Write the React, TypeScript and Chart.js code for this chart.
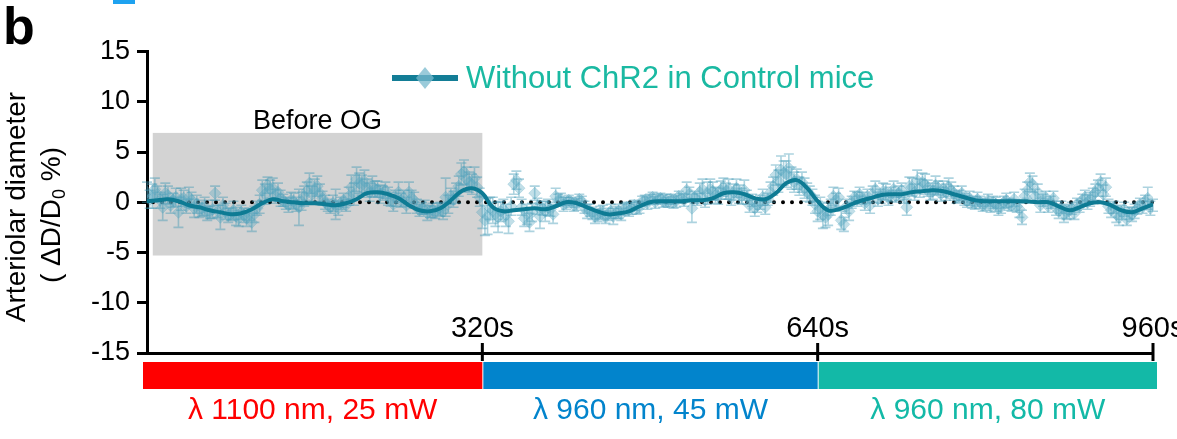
import { useEffect, useRef } from "react";
import { Chart, registerables } from "chart.js";

Chart.register(...registerables);

// ---- data ----
// samples on the 5 s grid (t = 0, 5, 10, ... 960 s)
const SAMPLE_STEP_S = 5;
const pointValues = [
  1.0, 0.6, 0.8, -0.5, 0.7, 0.2, -1.0, 0.4, 0.5, -0.6,
  -0.8, -0.4, -1.0, 0.9, -1.5, -0.9, -1.2, -1.4, -1.0, -1.6,
  -2.0, -0.6, 1.2, 1.7, 1.4, 1.0, 0.2, -0.3, 0.1, -0.5,
  0.6, 1.9, 1.2, 0.9, 0.0, -0.5, -0.2, -0.1, -0.3, 1.5,
  2.3, 1.7, 1.4, 1.6, 1.3, 0.9, 0.6, -0.2, 1.0, 0.4,
  1.0, 0.2, -0.8, -0.5, -0.9, -1.0, -0.7, 0.5, 0.6, 0.9,
  2.8, 2.3, 1.8, 1.5, -1.0, -1.4, -0.8, -1.5, -0.7, -1.9,
  1.8, 1.4, -1.6, -2.0, 0.9, -1.4, -0.9, -0.7, 0.6, 0.3,
  -0.1, 0.0, -0.2, 0.1, -0.9, -1.1, -1.3, -1.0, -1.2, -1.4,
  -0.9, -0.7, -0.8, -0.3, -0.5, 0.2, 0.3, 0.0, 0.4, 0.2,
  0.3, 0.1, 0.4, 1.2, -0.6, 0.3, 1.3, 0.9, 1.1, 0.6,
  1.5, 1.3, 1.0, 0.8, 1.2, -0.3, -0.6, 0.0, -0.5, 1.0,
  2.7, 3.2, 2.8, 2.4, 2.3, 2.0, 1.0, 0.5, -0.9, -1.3,
  -1.2, 0.6, 0.5, -2.2, -0.9, 0.5, 0.8, -0.1, -0.3, 1.3,
  0.6, 1.0, 0.8, 0.6, 1.2, -0.5, 1.5, 2.2, 2.0, 1.4,
  1.1, 1.4, 1.3, 1.5, 0.9, 0.6, 0.3, 0.4, -0.1, 0.0,
  -0.2, -0.4, -0.2, -0.5, 0.2, -0.3, -0.4, -1.5, 1.2, 1.8,
  1.0, 0.2, -0.4, 0.4, -0.9, -1.2, -0.9, -1.1, -0.4, 0.5,
  0.3, 1.0, 2.0, 1.5, -0.8, -1.2, -1.0, -1.7, -1.2, -0.6,
  -0.5, 0.4, -0.3,
];
const pointErrors = [
  1.0, 1.2, 0.8, 1.3, 0.9, 0.7, 1.5, 0.8, 1.0, 0.9,
  0.7, 0.9, 0.6, 0.7, 1.2, 0.8, 0.6, 0.9, 0.7, 0.8,
  0.9, 0.7, 1.0, 0.8, 1.0, 0.9, 0.6, 0.7, 0.8, 1.8,
  1.0, 1.0, 1.1, 0.9, 0.7, 0.6, 1.5, 0.6, 0.6, 1.2,
  1.2, 1.0, 0.9, 1.0, 0.8, 0.7, 0.9, 0.7, 1.0, 0.8,
  1.0, 0.8, 0.6, 0.7, 0.6, 0.6, 0.7, 1.9, 0.8, 1.0,
  1.1, 1.2, 1.0, 1.0, 1.6, 1.8, 1.3, 1.5, 1.0, 1.2,
  1.0, 0.9, 0.8, 0.9, 0.7, 1.2, 1.0, 0.7, 0.8, 0.6,
  0.6, 0.5, 0.6, 0.5, 0.7, 0.6, 0.6, 0.7, 0.6, 0.8,
  0.7, 0.6, 0.6, 0.5, 0.6, 0.5, 0.5, 0.6, 0.5, 0.6,
  0.5, 0.6, 0.5, 0.8, 1.4, 0.6, 1.0, 1.1, 0.9, 0.8,
  0.9, 1.0, 0.8, 0.9, 1.0, 0.7, 0.8, 0.7, 0.7, 1.0,
  1.0, 1.4, 1.3, 1.1, 1.0, 1.0, 0.9, 0.8, 1.0, 1.3,
  1.1, 0.9, 0.9, 0.7, 0.9, 0.6, 0.7, 0.7, 0.8, 0.8,
  0.7, 0.8, 0.7, 0.6, 0.7, 0.8, 0.9, 1.0, 0.9, 0.8,
  0.8, 0.7, 0.8, 0.9, 0.7, 0.6, 0.6, 0.7, 0.6, 0.6,
  0.6, 0.6, 0.7, 0.6, 0.7, 0.6, 0.6, 0.7, 0.8, 0.8,
  0.8, 0.6, 0.6, 0.7, 0.7, 0.8, 0.7, 0.6, 0.6, 0.7,
  0.7, 0.8, 0.8, 0.9, 0.7, 0.8, 0.7, 0.6, 0.7, 0.6,
  0.6, 1.1, 0.6,
];
// samples half-way between (t = 2.5, 7.5, ... 957.5 s)
const MID_OFFSET_S = 2.5;
const pointValuesMid = [
  0.3, 1.3, 0.2, 0.9, -0.3, 0.5, 0.3, -0.4, 0.2, -0.2,
  -0.6, -1.1, -0.7, -0.9, -0.3, -1.3, -0.8, -1.6, -1.3, -1.2,
  -1.2, -0.2, 0.8, 1.3, 0.6, 0.4, -0.1, 0.2, -0.2, 0.1,
  1.1, 0.8, 1.6, 0.4, -0.3, -0.1, -0.6, 0.2, 0.6, 0.8,
  1.9, 2.1, 1.0, 1.3, 0.8, 1.2, 0.3, 0.4, 0.2, -0.3,
  0.4, -0.4, -0.6, -1.1, -0.8, -0.7, -0.9, -0.2, 0.3, 1.6,
  3.0, 2.0, 2.4, 0.5, -1.8, -0.6, -1.2, -0.9, -1.3, -0.4,
  2.2, -0.5, -1.2, -1.0, -0.4, -0.6, -0.5, -1.2, 0.2, -0.2,
  0.2, -0.3, 0.3, -0.5, -0.8, -1.4, -1.0, -1.5, -0.9, -1.0,
  -1.2, -0.5, -0.6, -0.6, 0.1, -0.1, 0.5, 0.3, 0.1, 0.0,
  0.0, 0.6, 0.2, 0.8, 0.5, 1.0, 0.2, 1.3, 0.7, 1.2,
  1.1, 0.4, 1.4, 0.6, 0.5, 0.2, -0.3, 0.5, 0.3, 1.6,
  2.1, 2.9, 3.4, 2.0, 1.6, 1.4, 0.8, -0.2, -0.6, -1.5,
  -0.5, 0.2, -1.8, -0.4, 0.0, 0.3, 0.4, 0.6, 0.8, 0.3,
  1.1, 0.4, 1.3, 0.9, 0.5, 1.6, 1.0, 1.4, 1.8, 0.9,
  1.7, 0.8, 1.0, 1.2, 0.5, 0.9, 0.1, 0.0, 0.3, -0.3,
  0.2, 0.0, -0.6, 0.0, -0.2, 0.3, -0.7, 0.6, 2.0, 0.6,
  -0.3, 0.5, 0.0, -0.6, -0.5, -1.0, -0.6, -0.2, 0.2, 0.0,
  0.7, 1.4, 0.8, -0.4, -0.5, -1.5, -0.7, -1.1, -0.9, -0.2,
  0.1, -0.6,
];
const pointErrorsMid = [
  0.9, 1.1, 0.8, 1.0, 0.8, 0.9, 1.1, 0.7, 0.8, 0.9,
  0.8, 0.7, 0.9, 0.6, 0.8, 0.7, 0.9, 0.8, 0.7, 0.6,
  0.8, 0.9, 1.0, 0.9, 0.7, 0.8, 0.6, 0.8, 0.7, 0.9,
  0.9, 0.8, 1.0, 0.7, 0.6, 0.8, 0.7, 0.7, 0.9, 1.1,
  1.0, 1.1, 0.9, 0.8, 0.9, 0.8, 0.7, 0.8, 0.7, 0.8,
  0.8, 0.7, 0.6, 0.7, 0.7, 0.6, 0.8, 0.9, 0.8, 1.0,
  1.2, 1.0, 1.1, 0.9, 1.5, 1.1, 1.2, 1.0, 1.1, 0.9,
  0.9, 0.8, 1.0, 0.9, 0.8, 0.7, 0.8, 0.9, 0.6, 0.7,
  0.5, 0.6, 0.5, 0.6, 0.6, 0.7, 0.6, 0.6, 0.7, 0.6,
  0.6, 0.5, 0.6, 0.6, 0.5, 0.6, 0.5, 0.5, 0.6, 0.5,
  0.6, 0.5, 0.6, 0.7, 0.6, 0.9, 0.7, 1.0, 0.8, 0.9,
  0.8, 0.7, 0.9, 0.8, 0.7, 0.6, 0.7, 0.8, 0.6, 0.9,
  1.1, 1.2, 1.4, 1.0, 0.9, 1.0, 0.8, 0.9, 1.1, 1.0,
  0.8, 0.7, 0.9, 0.7, 0.6, 0.7, 0.6, 0.7, 0.8, 0.7,
  0.8, 0.7, 0.8, 0.7, 0.6, 0.9, 0.8, 0.9, 1.0, 0.7,
  0.9, 0.7, 0.8, 0.8, 0.6, 0.7, 0.6, 0.6, 0.7, 0.6,
  0.6, 0.6, 0.7, 0.6, 0.6, 0.7, 0.8, 0.7, 0.9, 0.7,
  0.7, 0.6, 0.6, 0.7, 0.6, 0.7, 0.6, 0.6, 0.6, 0.7,
  0.7, 0.8, 0.9, 0.7, 0.6, 0.8, 0.7, 0.6, 0.7, 0.6,
  0.6, 0.7,
];
const FIT_STEP_S = 10;
const fitValues = [
  0.1, 0.2, 0.3, 0.1, -0.3, -0.5, -0.8, -1.0, -1.2, -1.1,
  -0.7, -0.1, 0.3, 0.1, 0.0, -0.1, -0.1, -0.2, -0.3, -0.1,
  0.3, 0.9, 1.0, 0.8, 0.4, -0.3, -0.8, -0.9, -0.6, 0.2,
  1.1, 1.4, 0.9, -0.5, -0.9, -0.8, -0.7, -0.6, -0.7, -0.4,
  0.0, -0.1, -0.5, -0.9, -1.2, -1.1, -0.9, -0.4, 0.0, 0.1,
  0.1, 0.1, 0.2, 0.2, 0.4, 0.9, 1.0, 0.8, 0.4, 0.3,
  0.9, 1.9, 2.2, 1.4, 0.1, -0.8, -0.7, -0.3, 0.1, 0.4,
  0.7, 0.8, 0.8, 1.0, 1.1, 1.2, 1.1, 0.8, 0.5, 0.2,
  0.1, 0.1, 0.1, 0.1, 0.1, 0.0, 0.0, -0.4, -0.8, -0.5,
  -0.1, 0.0, -0.3, -0.8, -1.0, -0.6, -0.2,
];
const seriesLabel = "Without ChR2 in Control mice";
const yTickValues = [-15, -10, -5, 0, 5, 10, 15];
const xTickSeconds = [320, 640, 960];
const xTickLabels = ["320s", "640s", "960s"];
const phaseStarts = [0, 320, 640];
const phaseEnds = [320, 640, 960];
const phaseLabels = ["λ 1100 nm, 25 mW", "λ 960 nm, 45 mW", "λ 960 nm, 80 mW"];
const phaseColors = ["#ff0000", "#0284cc", "#13b9a7"];
const beforeOgSpan = [5.5, 320];
const beforeOgRange = [-5.3, 6.9];
const beforeOgLabel = "Before OG";

const FONT = "'Liberation Sans', Arial, sans-serif";

export default function App() {
  const ref = useRef<HTMLCanvasElement | null>(null);

  useEffect(() => {
    if (!ref.current) return;
    const samples = [
      ...pointValues.map((v, i) => ({ x: i * SAMPLE_STEP_S, y: v, e: pointErrors[i] })),
      ...pointValuesMid.map((v, i) => ({ x: i * SAMPLE_STEP_S + MID_OFFSET_S, y: v, e: pointErrorsMid[i] })),
    ];
    const fit = fitValues.map((v, i) => ({ x: i * FIT_STEP_S, y: v }));

    const decor = {
      id: "decor",
      beforeDatasetsDraw(chart: any) {
        const { ctx, scales } = chart;
        const x = scales.x;
        const y = scales.y;
        ctx.save();
        // gray "Before OG" box
        const bx0 = x.getPixelForValue(beforeOgSpan[0]);
        const bx1 = x.getPixelForValue(beforeOgSpan[1]);
        const by0 = y.getPixelForValue(beforeOgRange[1]);
        const by1 = y.getPixelForValue(beforeOgRange[0]);
        ctx.fillStyle = "#d3d3d3";
        ctx.fillRect(bx0, by0, bx1 - bx0, by1 - by0);
        ctx.fillStyle = "#000";
        ctx.font = `27px ${FONT}`;
        ctx.textAlign = "center";
        ctx.textBaseline = "alphabetic";
        ctx.fillText(beforeOgLabel, (bx0 + bx1) / 2, by0 - 4);
        // zero dotted line
        const y0 = y.getPixelForValue(0);
        ctx.strokeStyle = "#000";
        ctx.lineWidth = 4;
        ctx.lineCap = "round";
        ctx.setLineDash([0, 9]);
        ctx.beginPath();
        ctx.moveTo(x.getPixelForValue(0) + 6, y0);
        ctx.lineTo(x.getPixelForValue(960), y0);
        ctx.stroke();
        ctx.setLineDash([]);
        // error bars
        ctx.strokeStyle = "rgba(60,150,178,0.42)";
        ctx.lineWidth = 1.6;
        ctx.lineCap = "butt";
        samples.forEach((s) => {
          const px = x.getPixelForValue(s.x);
          const top = y.getPixelForValue(s.y + s.e);
          const bot = y.getPixelForValue(s.y - s.e);
          ctx.beginPath();
          ctx.moveTo(px, top);
          ctx.lineTo(px, bot);
          ctx.moveTo(px - 5, top);
          ctx.lineTo(px + 5, top);
          ctx.moveTo(px - 5, bot);
          ctx.lineTo(px + 5, bot);
          ctx.stroke();
        });
        ctx.restore();
      },
      afterDraw(chart: any) {
        const { ctx, scales, chartArea } = chart;
        const x = scales.x;
        ctx.save();
        // x ticks crossing axis
        ctx.strokeStyle = "#000";
        ctx.lineWidth = 3;
        const axisY = chartArea.bottom;
        xTickSeconds.forEach((s, i) => {
          const px = x.getPixelForValue(s);
          ctx.beginPath();
          ctx.moveTo(px, axisY - 10);
          ctx.lineTo(px, axisY + 8);
          ctx.stroke();
          ctx.fillStyle = "#000";
          ctx.font = `29px ${FONT}`;
          ctx.textAlign = "center";
          ctx.textBaseline = "alphabetic";
          ctx.fillText(xTickLabels[i], px, axisY - 16);
        });
        // phase bars
        phaseStarts.forEach((s, i) => {
          const left = x.getPixelForValue(s) + (i === 0 ? -4 : 1);
          const right = x.getPixelForValue(phaseEnds[i]) + (i === phaseStarts.length - 1 ? 4 : 0);
          ctx.fillStyle = phaseColors[i];
          ctx.fillRect(left, axisY + 9, right - left, 27);
          ctx.font = `30px ${FONT}`;
          ctx.textAlign = "center";
          ctx.textBaseline = "middle";
          ctx.fillText(phaseLabels[i], (left + right) / 2, axisY + 58);
        });
        // y title
        ctx.fillStyle = "#000";
        ctx.save();
        ctx.translate(17, 207);
        ctx.rotate(-Math.PI / 2);
        ctx.font = `28px ${FONT}`;
        ctx.textAlign = "center";
        ctx.textBaseline = "middle";
        ctx.fillText("Arteriolar diameter", 0, 0);
        ctx.restore();
        ctx.save();
        ctx.translate(52, 215);
        ctx.rotate(-Math.PI / 2);
        ctx.textBaseline = "middle";
        ctx.textAlign = "left";
        const big = `28px ${FONT}`;
        const small = `18px ${FONT}`;
        const p1 = "( ΔD/D";
        const p2 = "0";
        const p3 = " %)";
        ctx.font = big;
        const w1 = ctx.measureText(p1).width;
        const w3 = ctx.measureText(p3).width;
        ctx.font = small;
        const w2 = ctx.measureText(p2).width;
        let cx = -(w1 + w2 + w3) / 2;
        ctx.font = big;
        ctx.fillText(p1, cx, 0);
        cx += w1;
        ctx.font = small;
        ctx.fillText(p2, cx, 8);
        cx += w2;
        ctx.font = big;
        ctx.fillText(p3, cx, 0);
        ctx.restore();
        // legend
        const ly = 78;
        ctx.strokeStyle = "#137d96";
        ctx.lineWidth = 6;
        ctx.beginPath();
        ctx.moveTo(392, ly);
        ctx.lineTo(458, ly);
        ctx.stroke();
        ctx.fillStyle = "rgba(120,185,205,0.75)";
        ctx.beginPath();
        ctx.moveTo(425, ly - 11);
        ctx.lineTo(434, ly);
        ctx.lineTo(425, ly + 11);
        ctx.lineTo(416, ly);
        ctx.closePath();
        ctx.fill();
        ctx.fillStyle = "#1ab9a2";
        ctx.font = `31px ${FONT}`;
        ctx.textAlign = "left";
        ctx.textBaseline = "middle";
        ctx.fillText(seriesLabel, 466, ly + 1);
        // panel letter
        ctx.fillStyle = "#000";
        ctx.font = `bold 52px ${FONT}`;
        ctx.textBaseline = "alphabetic";
        ctx.fillText("b", 3, 44);
        // cut-off fragment from panel above
        ctx.fillStyle = "#1ea2f0";
        ctx.fillRect(113, 0, 22, 4);
        ctx.restore();
      },
    };

    const chart = new Chart(ref.current, {
      type: "scatter",
      data: {
        datasets: [
          {
            label: seriesLabel + " fit",
            data: fit,
            showLine: true,
            tension: 0.4,
            borderColor: "#0e7b94",
            borderWidth: 4,
            pointRadius: 0,
            order: 0,
          } as any,
          {
            label: seriesLabel,
            data: samples,
            pointStyle: "rectRot",
            pointRadius: 6,
            backgroundColor: "rgba(85,165,192,0.36)",
            borderColor: "rgba(85,165,192,0.25)",
            borderWidth: 1,
            order: 1,
          },
        ],
      },
      options: {
        animation: false,
        responsive: true,
        maintainAspectRatio: false,
        events: [],
        layout: { padding: { top: 51.5, right: 24, left: 0, bottom: 0 } },
        plugins: { legend: { display: false }, tooltip: { enabled: false } },
        scales: {
          x: {
            type: "linear",
            min: 0,
            max: 960,
            ticks: { display: false },
            grid: { display: false },
            border: { display: true, width: 3, color: "#000" },
            afterFit: (s: any) => {
              s.height = 86;
            },
          },
          y: {
            min: -15,
            max: 15,
            afterBuildTicks: (s: any) => {
              s.ticks = yTickValues.map((v) => ({ value: v }));
            },
            ticks: {
              color: "#000",
              font: { family: FONT, size: 27 },
              padding: 7,
            },
            grid: {
              display: true,
              drawOnChartArea: false,
              drawTicks: true,
              tickLength: 10,
              tickWidth: 3,
              tickColor: "#000",
              color: "#000",
            },
            border: { display: true, width: 3, color: "#000" },
            afterFit: (s: any) => {
              s.width = 147;
            },
          },
        },
      },
      plugins: [decor],
    });
    return () => chart.destroy();
  }, []);

  return (
    <div style={{ position: "fixed", left: 0, top: 0, width: 1177, height: 439, background: "#fff" }}>
      <canvas ref={ref} />
    </div>
  );
}
